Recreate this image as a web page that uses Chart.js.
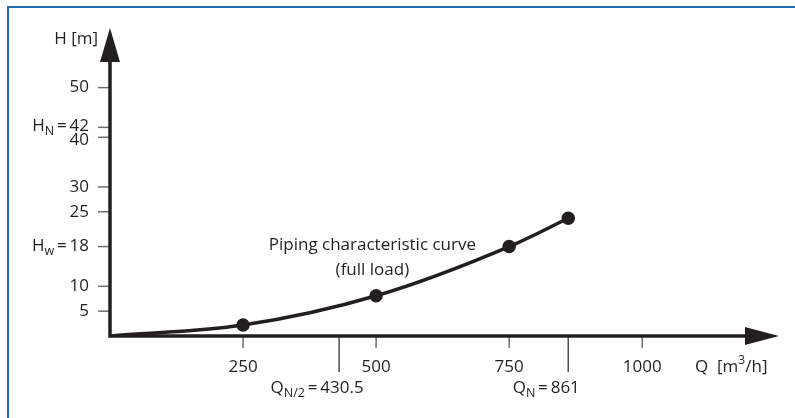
<!DOCTYPE html>
<html>
<head>
<meta charset="utf-8">
<script src="https://cdn.jsdelivr.net/npm/chart.js@4/dist/chart.umd.min.js"></script>
<style>
  html, body { margin: 0; padding: 0; background: #fff; }
  #wrap { width: 795px; height: 418px; position: relative; }
</style>
</head>
<body>
<div id="wrap"><canvas id="chart" width="795" height="418"></canvas></div>
<script>
// piping curve: flow Q [m3/h] vs head H [m]
const flowValues = [0, 250, 500, 750, 861];
const headValues = [0, 2.2, 8.1, 18, 23.7];
const pointSizes = [0, 5, 5, 5, 5];

// axis ticks, "_{..}" marks a subscript
const yTickValues = [5, 10, 18, 25, 30, 40, 42, 50];
const yTickLabels = ['5', '10', 'H_{w}\u2009=\u200918', '25', '30', '40', 'H_{N}\u2009=\u200942', '50'];
const xTickValues = [250, 500, 750, 1000];
const xTickLabels = ['250', '500', '750', '1000'];
const xMarkValues = [430.5, 861];
const xMarkLabels = ['Q_{N/2}\u2009=\u2009430.5', 'Q_{N}\u2009=\u2009861'];

const curveLabel = ['Piping characteristic curve', '(full load)'];
const ink = '#231f20';
const font = '"Open Sans", "Noto Sans", sans-serif';
const fs = 17;

// nudge for the crowded 40 / 42 labels
const yLabelShift = {40: 3, 42: -1};

// draws text with optional subscript part, aligned by anchor
function richText(ctx, str, x, y, align) {
    const m = str.match(/^(.*?)_\{(.*?)\}(.*)$/);
    const parts = m ? [[m[1], fs, 0], [m[2], 12.5, 5], [m[3], fs, 0]] : [[str, fs, 0]];
    let total = 0;
    parts.forEach(p => { ctx.font = p[1] + 'px ' + font; total += ctx.measureText(p[0]).width; });
    let cx = align === 'right' ? x - total : align === 'center' ? x - total / 2 : x;
    ctx.textAlign = 'left';
    ctx.textBaseline = 'middle';
    parts.forEach(p => {
        ctx.font = p[1] + 'px ' + font;
        ctx.fillText(p[0], cx, y + p[2]);
        cx += ctx.measureText(p[0]).width;
    });
}

const axesPlugin = {
    id: 'axesPlugin',
    beforeDatasetsDraw(chart) {
        const ctx = chart.ctx;
        const xs = chart.scales.x, ys = chart.scales.y;
        const x0 = xs.getPixelForValue(0), y0 = ys.getPixelForValue(0);
        const area = chart.chartArea;
        ctx.save();

        // blue frame
        ctx.strokeStyle = '#1f6cae';
        ctx.lineWidth = 2;
        ctx.beginPath();
        ctx.moveTo(8, 418); ctx.lineTo(8, 7); ctx.lineTo(795, 7);
        ctx.stroke();

        // ticks
        ctx.strokeStyle = '#6d6e71';
        ctx.lineWidth = 1.5;
        yTickValues.forEach(v => {
            const py = ys.getPixelForValue(v);
            ctx.beginPath(); ctx.moveTo(x0 - 12, py); ctx.lineTo(x0, py); ctx.stroke();
        });
        xTickValues.forEach(v => {
            const px = xs.getPixelForValue(v);
            ctx.beginPath(); ctx.moveTo(px, y0); ctx.lineTo(px, y0 + 12); ctx.stroke();
        });
        ctx.strokeStyle = '#4d4d4f';
        xMarkValues.forEach(v => {
            const px = xs.getPixelForValue(v);
            ctx.beginPath(); ctx.moveTo(px, y0); ctx.lineTo(px, y0 + 36); ctx.stroke();
        });

        // axis lines with arrows
        ctx.strokeStyle = ink;
        ctx.fillStyle = ink;
        ctx.lineWidth = 3.5;
        ctx.beginPath();
        ctx.moveTo(x0, y0 + 1.5); ctx.lineTo(x0, area.top + 30);
        ctx.moveTo(x0 - 1.5, y0); ctx.lineTo(area.right - 30, y0);
        ctx.stroke();
        ctx.beginPath();
        ctx.moveTo(x0, area.top); ctx.lineTo(x0 + 10, area.top + 34); ctx.lineTo(x0 - 10, area.top + 34);
        ctx.closePath(); ctx.fill();
        ctx.beginPath();
        ctx.moveTo(area.right, y0); ctx.lineTo(area.right - 34, y0 - 9); ctx.lineTo(area.right - 34, y0 + 9);
        ctx.closePath(); ctx.fill();

        // labels
        yTickValues.forEach((v, i) => richText(ctx, yTickLabels[i], x0 - 21,
            ys.getPixelForValue(v) + (yLabelShift[v] || 0), 'right'));
        xTickValues.forEach((v, i) => richText(ctx, xTickLabels[i], xs.getPixelForValue(v), y0 + 31, 'center'));
        xMarkValues.forEach((v, i) => richText(ctx, xMarkLabels[i], xs.getPixelForValue(v) - 22, y0 + 52, 'center'));

        richText(ctx, 'H [m]', x0 - 12, area.top + 11, 'right');
        ctx.font = fs + 'px ' + font;
        ctx.textBaseline = 'middle';
        ctx.textAlign = 'left';
        ctx.fillText('Q  [m', 695, y0 + 31);
        let qx = 695 + ctx.measureText('Q  [m').width;
        ctx.font = '12px ' + font;
        ctx.fillText('3', qx, y0 + 25);
        qx += ctx.measureText('3').width;
        ctx.font = fs + 'px ' + font;
        ctx.fillText('/h]', qx, y0 + 31);

        // curve annotation
        richText(ctx, curveLabel[0], xs.getPixelForValue(493), ys.getPixelForValue(18.3), 'center');
        richText(ctx, curveLabel[1], xs.getPixelForValue(493), ys.getPixelForValue(13.3), 'center');
        ctx.restore();
    }
};

new Chart(document.getElementById('chart'), {
    type: 'scatter',
    data: {
        datasets: [{
            data: flowValues.map((q, i) => ({x: q, y: headValues[i]})),
            showLine: true,
            borderColor: ink,
            borderWidth: 3.5,
            backgroundColor: ink,
            pointRadius: pointSizes,
            pointHoverRadius: pointSizes,
            cubicInterpolationMode: 'monotone'
        }]
    },
    options: {
        responsive: false,
        animation: false,
        layout: { padding: { left: 110, top: 28, right: 16, bottom: 82 } },
        plugins: { legend: { display: false }, tooltip: { enabled: false } },
        scales: {
            x: { type: 'linear', min: 0, max: 1257, display: false },
            y: { type: 'linear', min: 0, max: 62, display: false }
        }
    },
    plugins: [axesPlugin]
});
</script>
</body>
</html>
